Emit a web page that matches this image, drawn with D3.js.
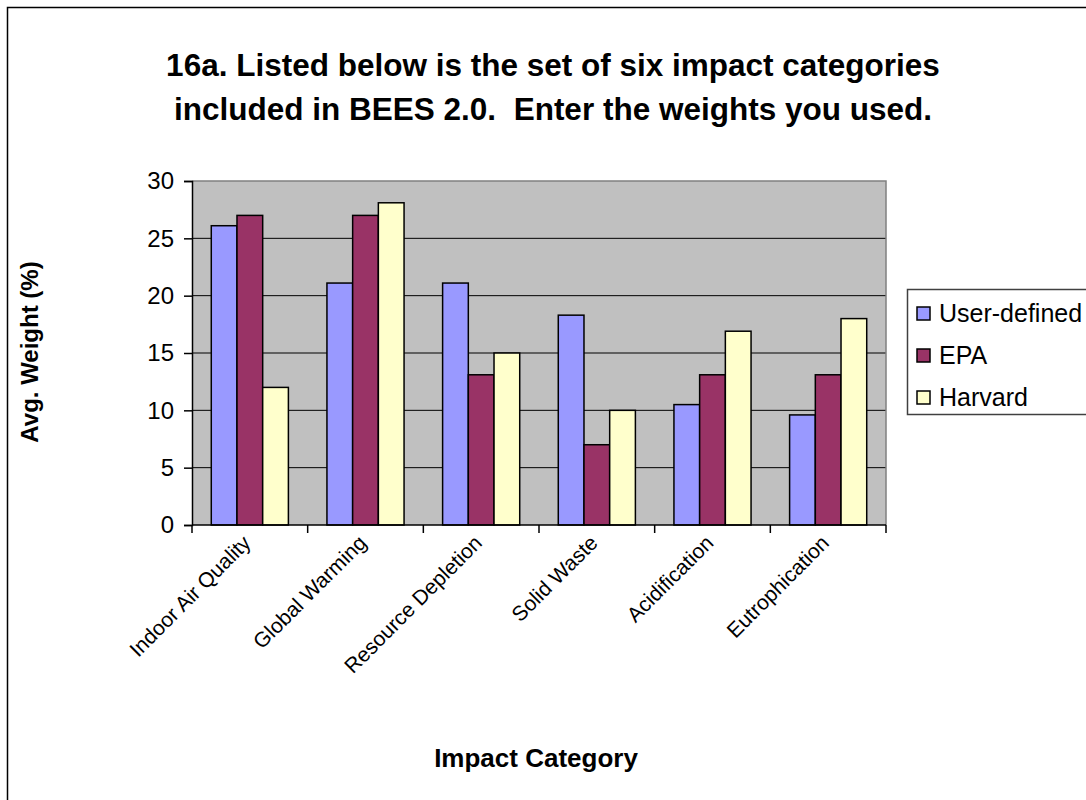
<!DOCTYPE html>
<html>
<head>
<meta charset="utf-8">
<script src="https://cdn.jsdelivr.net/npm/d3@7"></script>
<style>
  html, body { margin: 0; padding: 0; background: #fff; }
  svg { display: block; font-family: "Liberation Sans", Arial, sans-serif; }
  text { white-space: pre; }
</style>
</head>
<body>
<svg id="chart" width="1086" height="800"></svg>
<script>
// Survey results: average weight given to each BEES 2.0 impact category
const categories = ["Indoor Air Quality", "Global Warming", "Resource Depletion", "Solid Waste", "Acidification", "Eutrophication"];
const seriesNames = ["User-defined", "EPA", "Harvard"];
const userDefined = [26.1, 21.1, 21.1, 18.3, 10.5, 9.6];
const epa = [27, 27, 13.1, 7, 13.1, 13.1];
const harvard = [12, 28.1, 15, 10, 16.9, 18];
const yTicks = [0, 5, 10, 15, 20, 25, 30];
const titleLines = ["16a. Listed below is the set of six impact categories", "included in BEES 2.0.  Enter the weights you used."];

const seriesValues = [userDefined, epa, harvard];
const colors = ["#9999FF", "#993366", "#FFFFCC"];

const svg = d3.select("#chart");

// chart-area frame
svg.append("rect")
  .attr("x", 7.5).attr("y", 7.5)
  .attr("width", 1200).attr("height", 1000)
  .attr("fill", "#fff").attr("stroke", "#000").attr("stroke-width", 1.5);

const plot = { left: 192, right: 886, top: 181, bottom: 525 };

const x = d3.scaleBand().domain(categories).range([plot.left, plot.right]).padding(0);
const step = x.bandwidth();
// gap between clusters equals 1.5 bar widths
const xInner = d3.scaleBand().domain(seriesNames).range([step / 6, step * 5 / 6]).padding(0);
const y = d3.scaleLinear().domain([0, 30]).range([plot.bottom, plot.top]);

// plot background
svg.append("rect")
  .attr("x", plot.left).attr("y", plot.top)
  .attr("width", plot.right - plot.left).attr("height", plot.bottom - plot.top)
  .attr("fill", "#C0C0C0");

// horizontal gridlines
svg.append("g").selectAll("line")
  .data(yTicks.filter(d => d > 0 && d < 30))
  .join("line")
  .attr("x1", plot.left).attr("x2", plot.right)
  .attr("y1", d => y(d)).attr("y2", d => y(d))
  .attr("stroke", "#000").attr("stroke-width", 1);

// plot border (top and right)
svg.append("path")
  .attr("d", `M${plot.left},${plot.top}H${plot.right}V${plot.bottom}`)
  .attr("fill", "none").attr("stroke", "#808080").attr("stroke-width", 1.5);

// bars
const groups = svg.append("g").selectAll("g")
  .data(seriesNames)
  .join("g")
  .attr("fill", (d, i) => colors[i]);

groups.selectAll("rect")
  .data((s, i) => categories.map((c, j) => ({ c, s, v: seriesValues[i][j] })))
  .join("rect")
  .attr("x", d => x(d.c) + xInner(d.s))
  .attr("y", d => y(d.v))
  .attr("width", xInner.bandwidth())
  .attr("height", d => y(0) - y(d.v))
  .attr("stroke", "#000").attr("stroke-width", 1.5);

// y axis
const yAxis = d3.axisLeft(y).tickValues(yTicks).tickSize(8).tickPadding(10).tickFormat(d3.format("d"));
const gy = svg.append("g").attr("transform", `translate(${plot.left},0)`).call(yAxis);
gy.select(".domain").attr("stroke", "#000").attr("stroke-width", 1.5);
gy.selectAll(".tick line").attr("stroke", "#000").attr("stroke-width", 1.5);
gy.selectAll(".tick text").attr("font-size", 24).attr("fill", "#000").attr("font-family", "Liberation Sans, Arial, sans-serif");

// x axis line and boundary ticks
svg.append("line")
  .attr("x1", plot.left).attr("x2", plot.right)
  .attr("y1", plot.bottom).attr("y2", plot.bottom)
  .attr("stroke", "#000").attr("stroke-width", 1.5);
const bounds = categories.map(c => x(c)).concat([plot.right]);
svg.append("g").selectAll("line")
  .data(bounds)
  .join("line")
  .attr("x1", d => d).attr("x2", d => d)
  .attr("y1", plot.bottom).attr("y2", plot.bottom + 8)
  .attr("stroke", "#000").attr("stroke-width", 1.5);

// rotated category labels
svg.append("g").selectAll("text")
  .data(categories)
  .join("text")
  .attr("transform", d => `translate(${x(d) + step / 2 - 3},${plot.bottom + 14}) rotate(-45)`)
  .attr("text-anchor", "end")
  .attr("dy", "0.35em")
  .attr("font-size", 21)
  .text(d => d);

// title
svg.append("text")
  .attr("x", 553).attr("text-anchor", "middle")
  .attr("font-size", 31.5).attr("font-weight", "bold")
  .selectAll("tspan")
  .data(titleLines)
  .join("tspan")
  .attr("x", 553)
  .attr("y", (d, i) => 76 + i * 44)
  .text(d => d);

// axis titles
svg.append("text")
  .attr("x", 536).attr("y", 767)
  .attr("text-anchor", "middle")
  .attr("font-size", 26).attr("font-weight", "bold")
  .text("Impact Category");

svg.append("text")
  .attr("transform", "translate(38,352) rotate(-90)")
  .attr("text-anchor", "middle")
  .attr("font-size", 24).attr("font-weight", "bold")
  .text("Avg. Weight (%)");

// legend
const legend = svg.append("g").attr("transform", "translate(907,289)");
legend.append("rect")
  .attr("x", 0.5).attr("y", 0.5)
  .attr("width", 300).attr("height", 125)
  .attr("fill", "#fff").attr("stroke", "#404040").attr("stroke-width", 1.5);
const items = legend.selectAll("g.item")
  .data(seriesNames)
  .join("g")
  .attr("class", "item")
  .attr("transform", (d, i) => `translate(10,${18 + i * 42})`);
items.append("rect")
  .attr("width", 13).attr("height", 13)
  .attr("fill", (d, i) => colors[i])
  .attr("stroke", "#000").attr("stroke-width", 1.5);
items.append("text")
  .attr("x", 22).attr("y", 6.5).attr("dy", "0.33em")
  .attr("font-size", 25)
  .text(d => d);
</script>
</body>
</html>
